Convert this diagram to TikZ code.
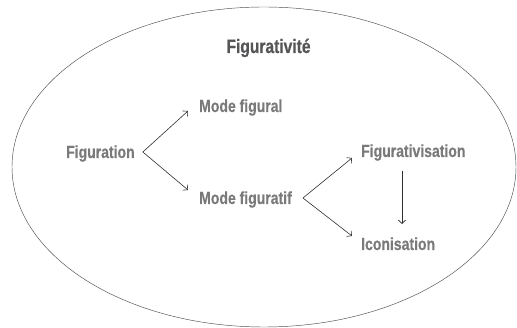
\documentclass[tikz,border=0pt]{standalone}
\usepackage{fontspec}
\newfontfamily\condfont{Liberation Sans}[FakeStretch=0.8,FakeBold=0.4]
\usetikzlibrary{arrows.meta,calc}
\definecolor{txtgray}{HTML}{7A7A7A}
\definecolor{titlegray}{HTML}{555557}
\definecolor{linegray}{HTML}{2E2E2E}
\begin{document}
\begin{tikzpicture}[x=1pt,y=1pt,
  lbl/.style={inner sep=0pt, anchor=base west, text=txtgray, font=\condfont\bfseries\fontsize{17.5}{20}\selectfont},
  ttl/.style={inner sep=0pt, anchor=base, text=titlegray, font=\condfont\bfseries\fontsize{19.5}{22}\selectfont},
  arr/.style={draw=linegray, line width=0.6pt, -{Straight Barb[length=3.6pt,width=7.4pt,line width=0.6pt]}},
  outer/.style={draw=linegray!85, line width=0.45pt}]
\useasboundingbox (0,0) rectangle (517,328);
\draw[outer] (264,161) ellipse [x radius=252, y radius=160];
\node[ttl] (title) at (268.5,275) {Figurativité};
\node[lbl] (fig) at (66,170) {Figuration};
\node[lbl] (mfl) at (199,216) {Mode figural};
\node[lbl] (mft) at (199,124) {Mode figuratif};
\node[lbl] (fgv) at (361,171) {Figurativisation};
\node[lbl] (ico) at (361,78) {Iconisation};
\coordinate (v1) at ($(fig.base east)+(8,6)$);
\coordinate (e1) at ($(mfl.base west)+(-11,1)$);
\coordinate (e2) at ($(mft.base west)+(-11,14)$);
\coordinate (v2) at ($(mft.base east)+(11,6)$);
\coordinate (e3) at ($(fgv.base west)+(-9,-1)$);
\coordinate (e4) at ($(ico.base west)+(-9,14)$);
\coordinate (s5) at ($(fgv.base west)+(41,-14)$);
\coordinate (e5) at ($(ico.base west)+(41,26)$);
\draw[arr] (v1) -- (e1);
\draw[arr] (v1) -- (e2);
\draw[arr] (v2) -- (e3);
\draw[arr] (v2) -- (e4);
\draw[arr] (s5) -- (e5);
\end{tikzpicture}
\end{document}
